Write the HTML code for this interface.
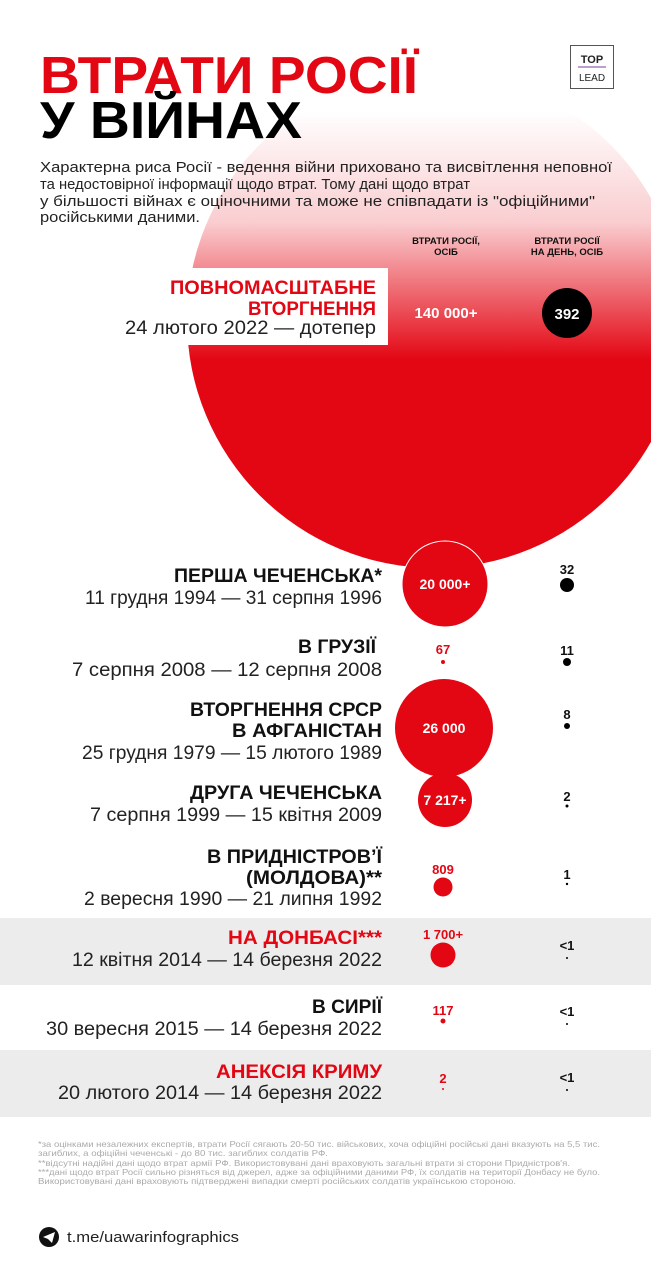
<!DOCTYPE html>
<html><head><meta charset="utf-8"><style>
html,body{margin:0;padding:0;background:#fff}
svg{display:block}
text{font-family:"Liberation Sans","DejaVu Sans",sans-serif}
.b{font-weight:bold}
.t{font-weight:bold;font-size:19px}
.d{font-size:19px;fill:#222}
</style></head><body>
<svg width="651" height="1280" viewBox="0 0 651 1280" xmlns="http://www.w3.org/2000/svg">
<defs>
<linearGradient id="g" gradientUnits="userSpaceOnUse" x1="0" y1="110" x2="0" y2="360">
<stop offset="0" stop-color="#e30613" stop-opacity="0"/>
<stop offset="0.45" stop-color="#e30613" stop-opacity="0.2"/>
<stop offset="1" stop-color="#e30613" stop-opacity="1"/>
</linearGradient>
</defs>
<rect width="651" height="1280" fill="#fff"/>
<circle cx="435" cy="320" r="248" fill="url(#g)"/>
<rect x="0" y="918" width="651" height="67" fill="#ececec"/>
<rect x="0" y="1050" width="651" height="67" fill="#ececec"/>

<text x="40" y="93" class="b" font-size="52" fill="#e30613" textLength="378" lengthAdjust="spacingAndGlyphs">ВТРАТИ РОСІЇ</text>
<text x="40" y="138" class="b" font-size="52" fill="#000" textLength="262" lengthAdjust="spacingAndGlyphs">У ВІЙНАХ</text>

<rect x="570.5" y="45.5" width="43" height="43" fill="#fff" stroke="#555" stroke-width="1"/>
<text x="592" y="63" class="b" font-size="11" text-anchor="middle" fill="#222">TOP</text>
<line x1="578" y1="67" x2="606" y2="67" stroke="#7a3fa0" stroke-width="1"/>
<text x="592" y="81" font-size="10" text-anchor="middle" fill="#222">LEAD</text>

<g font-size="15" fill="#222">
<text x="40" y="172" textLength="572" lengthAdjust="spacingAndGlyphs">Характерна риса Росії - ведення війни приховано та висвітлення неповної</text>
<text x="40" y="189" textLength="430" lengthAdjust="spacingAndGlyphs">та недостовірної інформації щодо втрат. Тому дані щодо втрат</text>
<text x="40" y="206" textLength="555" lengthAdjust="spacingAndGlyphs">у більшості війнах є оціночними та може не співпадати із "офіційними"</text>
<text x="40" y="222" textLength="160" lengthAdjust="spacingAndGlyphs">російськими даними.</text>
</g>

<g class="b" font-size="9.5" text-anchor="middle" fill="#111">
<text x="446" y="244">ВТРАТИ РОСІЇ,</text><text x="446" y="255">ОСІБ</text>
<text x="567" y="244">ВТРАТИ РОСІЇ</text><text x="567" y="255">НА ДЕНЬ, ОСІБ</text>
</g>

<rect x="160" y="268" width="228" height="77" fill="#fff"/>
<text x="376" y="294" text-anchor="end" class="t" fill="#e30613" textLength="206" lengthAdjust="spacingAndGlyphs">ПОВНОМАСШТАБНЕ</text>
<text x="376" y="315" text-anchor="end" class="t" fill="#e30613" textLength="128" lengthAdjust="spacingAndGlyphs">ВТОРГНЕННЯ</text>
<text x="376" y="334" text-anchor="end" class="d" textLength="251" lengthAdjust="spacingAndGlyphs">24 лютого 2022 — дотепер</text>
<text x="446" y="318" text-anchor="middle" class="b" font-size="15" fill="#fff">140 000+</text>
<circle cx="567" cy="313" r="25" fill="#000"/>
<text x="567" y="319" text-anchor="middle" class="b" font-size="15" fill="#fff">392</text>

<g text-anchor="end" fill="#111">
<text x="382" y="582" class="t" textLength="208" lengthAdjust="spacingAndGlyphs">ПЕРША ЧЕЧЕНСЬКА*</text>
<text x="382" y="604" class="d" textLength="297" lengthAdjust="spacingAndGlyphs">11 грудня 1994 — 31 серпня 1996</text>
<text x="376" y="653" class="t" textLength="78" lengthAdjust="spacingAndGlyphs">В ГРУЗІЇ</text>
<text x="382" y="676" class="d" textLength="310" lengthAdjust="spacingAndGlyphs">7 серпня 2008 — 12 серпня 2008</text>
<text x="382" y="716" class="t" textLength="192" lengthAdjust="spacingAndGlyphs">ВТОРГНЕННЯ СРСР</text>
<text x="382" y="737" class="t" textLength="150" lengthAdjust="spacingAndGlyphs">В АФГАНІСТАН</text>
<text x="382" y="759" class="d" textLength="300" lengthAdjust="spacingAndGlyphs">25 грудня 1979 — 15 лютого 1989</text>
<text x="382" y="799" class="t" textLength="192" lengthAdjust="spacingAndGlyphs">ДРУГА ЧЕЧЕНСЬКА</text>
<text x="382" y="821" class="d" textLength="292" lengthAdjust="spacingAndGlyphs">7 серпня 1999 — 15 квітня 2009</text>
<text x="382" y="863" class="t" textLength="175" lengthAdjust="spacingAndGlyphs">В ПРИДНІСТРОВ’Ї</text>
<text x="382" y="884" class="t" textLength="136" lengthAdjust="spacingAndGlyphs">(МОЛДОВА)**</text>
<text x="382" y="905" class="d" textLength="298" lengthAdjust="spacingAndGlyphs">2 вересня 1990 — 21 липня 1992</text>
<text x="382" y="944" class="t" fill="#e30613" textLength="154" lengthAdjust="spacingAndGlyphs">НА ДОНБАСІ***</text>
<text x="382" y="966" class="d" textLength="310" lengthAdjust="spacingAndGlyphs">12 квітня 2014 — 14 березня 2022</text>
<text x="382" y="1013" class="t" textLength="70" lengthAdjust="spacingAndGlyphs">В СИРІЇ</text>
<text x="382" y="1035" class="d" textLength="336" lengthAdjust="spacingAndGlyphs">30 вересня 2015 — 14 березня 2022</text>
<text x="382" y="1078" class="t" fill="#e30613" textLength="166" lengthAdjust="spacingAndGlyphs">АНЕКСІЯ КРИМУ</text>
<text x="382" y="1099" class="d" textLength="324" lengthAdjust="spacingAndGlyphs">20 лютого 2014 — 14 березня 2022</text>
</g>

<g fill="#e30613">
<circle cx="445" cy="584" r="43" stroke="#fff" stroke-width="1"/>
<circle cx="444" cy="728" r="49"/>
<circle cx="445" cy="800" r="27"/>
<circle cx="443" cy="662" r="2"/>
<circle cx="443" cy="887" r="9.5"/>
<circle cx="443" cy="955" r="12.5"/>
<circle cx="443" cy="1021" r="2.5"/>
<circle cx="443" cy="1089" r="1"/>
</g>
<g class="b" text-anchor="middle">
<text x="445" y="589" font-size="14" fill="#fff">20 000+</text>
<text x="444" y="733" font-size="14" fill="#fff">26 000</text>
<text x="445" y="805" font-size="14" fill="#fff">7 217+</text>
<g font-size="13" fill="#e30613">
<text x="443" y="654">67</text>
<text x="443" y="874">809</text>
<text x="443" y="939">1 700+</text>
<text x="443" y="1015">117</text>
<text x="443" y="1083">2</text>
</g>
<g font-size="13" fill="#111">
<text x="567" y="574">32</text>
<text x="567" y="655">11</text>
<text x="567" y="719">8</text>
<text x="567" y="801">2</text>
<text x="567" y="879">1</text>
<text x="567" y="950">&lt;1</text>
<text x="567" y="1016">&lt;1</text>
<text x="567" y="1082">&lt;1</text>
</g>
</g>
<g fill="#000">
<circle cx="567" cy="585" r="7"/>
<circle cx="567" cy="662" r="4"/>
<circle cx="567" cy="726" r="3"/>
<circle cx="567" cy="806" r="1.5"/>
<circle cx="567" cy="884" r="1.2"/>
<circle cx="567" cy="958" r="1"/>
<circle cx="567" cy="1024" r="1"/>
<circle cx="567" cy="1090" r="1"/>
</g>

<g font-size="8.2" fill="#aaa">
<text x="38" y="1147" textLength="562" lengthAdjust="spacingAndGlyphs">*за оцінками незалежних експертів, втрати Росії сягають 20-50 тис. військових, хоча офіційні російські дані вказують на 5,5 тис.</text>
<text x="38" y="1156" textLength="290" lengthAdjust="spacingAndGlyphs">загиблих, а офіційні чеченські - до 80 тис. загиблих солдатів РФ.</text>
<text x="38" y="1166" textLength="532" lengthAdjust="spacingAndGlyphs">**відсутні надійні дані щодо втрат армії РФ. Використовувані дані враховують загальні втрати зі сторони Придністров'я.</text>
<text x="38" y="1175" textLength="562" lengthAdjust="spacingAndGlyphs">***дані щодо втрат Росії сильно різняться від джерел, адже за офіційними даними РФ, їх солдатів на території Донбасу не було.</text>
<text x="38" y="1184" textLength="478" lengthAdjust="spacingAndGlyphs">Використовувані дані враховують підтверджені випадки смерті російських солдатів українською стороною.</text>
</g>

<circle cx="49" cy="1237" r="10" fill="#111"/>
<path d="M43 1237 L55 1232 L52 1243 L48 1239 Z" fill="#fff"/>
<text x="67" y="1242" font-size="15" fill="#222" textLength="172" lengthAdjust="spacingAndGlyphs">t.me/uawarinfographics</text>
</svg>
</body></html>
